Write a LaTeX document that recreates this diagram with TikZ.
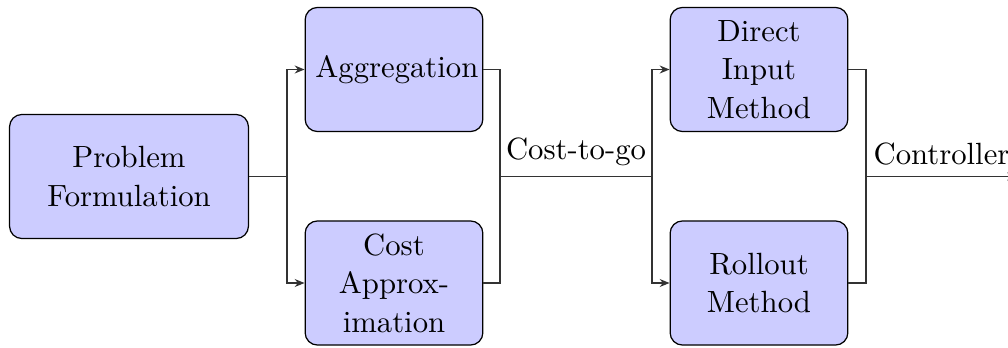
\documentclass[tikz,border=0pt]{standalone}
\usetikzlibrary{arrows.meta}
\begin{document}
\begin{tikzpicture}[x=0.3257pt,y=-0.3257pt,
  box/.style={draw=black,fill=blue!20,rounded corners=4pt,align=center,minimum height=1.42cm,inner sep=0.3333em,font=\fontsize{10}{12.5}\selectfont},
  wide/.style={box,text width=2.5cm},
  narrow/.style={box,text width=1.8cm},
  conn/.style={draw=black!80,line width=0.4pt},
  arr/.style={conn,-{Stealth[length=3.2pt,width=2.6pt]}}]
\useasboundingbox (0,0) rectangle (1008,348);
\node[wide] (pf) at (129,176.5) {Problem\\Formulation};
\node[narrow] (agg) at (394,69.5) {Aggregation};
\node[narrow] (ca) at (394,283) {Cost\\Approx-\\imation};
\node[narrow] (dim) at (759,69.5) {Direct\\Input\\Method};
\node[narrow] (rm) at (759,283) {Rollout\\Method};
\coordinate (s1) at (287,176.5);
\coordinate (j1) at (500,176.5);
\coordinate (s2) at (652,176.5);
\coordinate (j2) at (866,176.5);
\coordinate (out) at (1017,176.5);
\draw[conn] (pf.east) -- (s1);
\draw[arr] (s1) |- (agg.west);
\draw[arr] (s1) |- (ca.west);
\draw[conn] (agg.east) -| (j1);
\draw[conn] (ca.east) -| (j1);
\draw[conn] (j1) -- node[above] (lab1) {Cost-to-go} (s2);
\draw[arr] (s2) |- (dim.west);
\draw[arr] (s2) |- (rm.west);
\draw[conn] (dim.east) -| (j2);
\draw[conn] (rm.east) -| (j2);
\draw[arr] (j2) -- node[above] (lab2) {Controller} (out);
\end{tikzpicture}
\end{document}
